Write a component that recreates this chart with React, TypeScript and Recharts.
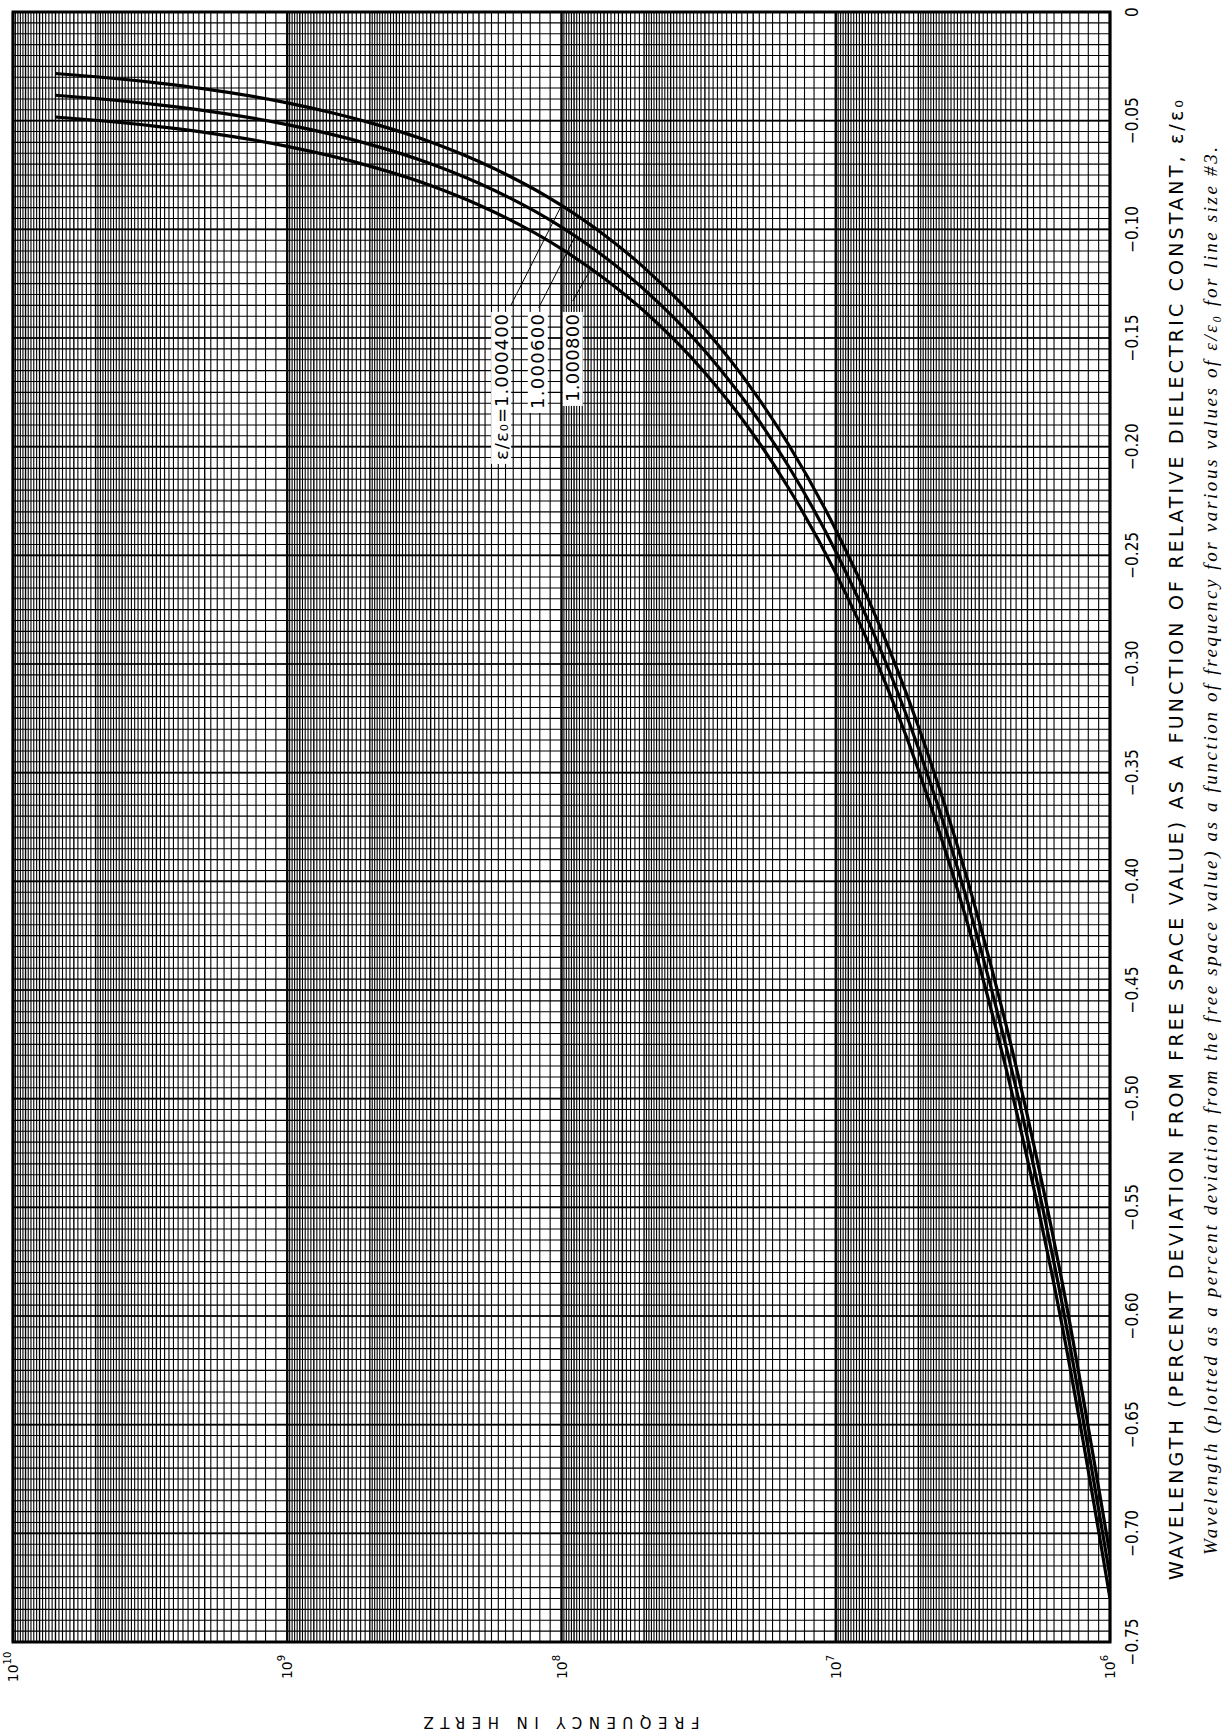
import { CartesianGrid, Label, Line, LineChart, ReferenceArea, ReferenceDot, ReferenceLine, XAxis, YAxis } from 'recharts'

// frequency in Hz, read along the bottom (log) axis
const FREQUENCIES = [7e9, 5e9, 3e9, 2e9, 1e9, 7e8, 5e8, 3e8, 2e8, 1e8, 7e7, 5e7, 3e7, 2e7, 1.5e7, 1e7, 7e6, 5e6, 3e6, 2e6, 1.5e6, 1e6]

// percent deviation of wavelength, one list per value of e/e0
const DEVIATION_1000400 = [-0.0283, -0.0298, -0.0326, -0.0354, -0.0418, -0.0461, -0.0509, -0.0598, -0.0688, -0.089, -0.1025, -0.1176, -0.146, -0.1743, -0.1982, -0.2382, -0.2808, -0.3286, -0.4184, -0.5079, -0.5834, -0.71]
const DEVIATION_1000600 = [-0.0383, -0.0398, -0.0426, -0.0454, -0.0518, -0.0561, -0.0609, -0.0698, -0.0788, -0.099, -0.1125, -0.1276, -0.156, -0.1843, -0.2082, -0.2482, -0.2908, -0.3386, -0.4284, -0.5179, -0.5934, -0.72]
const DEVIATION_1000800 = [-0.0483, -0.0498, -0.0526, -0.0554, -0.0618, -0.0661, -0.0709, -0.0798, -0.0888, -0.109, -0.1225, -0.1376, -0.166, -0.1943, -0.2182, -0.2582, -0.3008, -0.3486, -0.4384, -0.5279, -0.6034, -0.73]

const SERIES = [
    { name: '1.000400', values: DEVIATION_1000400 },
    { name: '1.000600', values: DEVIATION_1000600 },
    { name: '1.000800', values: DEVIATION_1000800 },
]

const FREQ_TICKS = [1e10, 1e9, 1e8, 1e7, 1e6]
const FREQ_EXPONENTS = ['10', '9', '8', '7', '6']

const DEVIATION_TICKS = [0, -0.05, -0.1, -0.15, -0.2, -0.25, -0.3, -0.35, -0.4, -0.45, -0.5, -0.55, -0.6, -0.65, -0.7, -0.75]
const DEVIATION_LABELS = ['0', '−0.05', '−0.10', '−0.15', '−0.20', '−0.25', '−0.30', '−0.35', '−0.40', '−0.45', '−0.50', '−0.55', '−0.60', '−0.65', '−0.70', '−0.75']

// curve call-outs: label top (freq) and leader from label to its curve
const CURVE_LABELS = [
    { text: 'ε/ε₀=1.000400', f: 1.66e8, len: 146 },
    { text: '1.000600', f: 1.22e8, len: 95 },
    { text: '1.000800', f: 9.1e7, len: 88 },
]
const LABEL_TOP = -0.138
const LEADERS = [
    { from: { x: 1.53e8, y: -0.135 }, to: { x: 1.0e8, y: -0.089 } },
    { from: { x: 1.21e8, y: -0.136 }, to: { x: 8.9e7, y: -0.103 } },
    { from: { x: 9.1e7, y: -0.133 }, to: { x: 7.8e7, y: -0.118 } },
]

// paper rulings (semi-log, 4 cycles)
const DECADES = [1e6, 1e7, 1e8, 1e9]
const FINE_MANTISSAS: number[] = []
for (let m = 11; m < 50; m++) if (m % 10 !== 0) FINE_MANTISSAS.push(m / 10)
for (let m = 52; m < 100; m += 2) if (m % 10 !== 0) FINE_MANTISSAS.push(m / 10)
const MAIN_MANTISSAS = [2, 3, 4, 5, 6, 7, 8, 9]
const X_FINE = DECADES.flatMap((d) => FINE_MANTISSAS.map((m) => m * d))
const X_MAIN = DECADES.flatMap((d) => MAIN_MANTISSAS.map((m) => m * d))
const Y_FINE = Array.from({ length: 151 }, (_, i) => -(i * 5) / 1000)

const FREQ_DOMAIN = [1e6, 1e10]
const DEV_DOMAIN = [-0.75, 0]

const NARROW = "'Liberation Sans Narrow', 'DejaVu Sans Condensed', 'Roboto Condensed', sans-serif"
const SANS = "'DejaVu Sans', 'Liberation Sans', sans-serif"
const SERIF = "'Liberation Serif', 'DejaVu Serif', serif"

function FreqTick({ x, y, payload }: any) {
    const i = FREQ_TICKS.indexOf(payload.value)
    const cy = y + 25
    return (
        <text x={x} y={cy} transform={`rotate(-90 ${x} ${cy})`} textAnchor="middle" dominantBaseline="central"
            fontFamily={SANS} fontSize={14} fill="#000">
            10<tspan dy={-6} fontSize={10}>{FREQ_EXPONENTS[i]}</tspan>
        </text>
    )
}

function DevTick({ x, y, payload }: any) {
    const i = DEVIATION_TICKS.indexOf(payload.value)
    const cx = x + 22
    return (
        <text x={cx} y={y} transform={`rotate(-90 ${cx} ${y})`} textAnchor="middle" dominantBaseline="central"
            fontFamily={NARROW} fontStretch="condensed" fontSize={17} fill="#000">
            {DEVIATION_LABELS[i]}
        </text>
    )
}

function CurveLabel({ cx, cy, text, len }: any) {
    return (
        <g transform={`rotate(-90 ${cx} ${cy})`}>
            <rect x={cx - len - 6} y={cy - 10} width={len + 6} height={20} fill="#fff" />
            <text x={cx - 2} y={cy} textAnchor="end" dominantBaseline="central" fontFamily={SANS} fontSize={18}
                textLength={len} lengthAdjust="spacing" fill="#000">
                {text}
            </text>
        </g>
    )
}

function FreqTitle({ viewBox }: any) {
    const cx = viewBox.x + viewBox.width / 2
    const cy = viewBox.y + 80
    return (
        <text x={cx} y={cy} transform={`rotate(180 ${cx} ${cy})`} textAnchor="middle" dominantBaseline="central"
            fontFamily={SANS} fontSize={15} textLength={276} lengthAdjust="spacing" fill="#000">
            FREQUENCY IN HERTZ
        </text>
    )
}

function DevTitle({ viewBox }: any) {
    const tx = viewBox.x + 66
    const ty = viewBox.y + 828
    const cx = viewBox.x + 100
    const cy = viewBox.y + 839
    return (
        <g>
            <text x={tx} y={ty} transform={`rotate(-90 ${tx} ${ty})`} textAnchor="middle" dominantBaseline="central"
                fontFamily={SANS} fontSize={19} textLength={1480} lengthAdjust="spacing" fill="#000">
                WAVELENGTH (PERCENT DEVIATION FROM FREE SPACE VALUE) AS A FUNCTION OF RELATIVE DIELECTRIC CONSTANT, ε/ε₀
            </text>
            <text x={cx} y={cy} transform={`rotate(-90 ${cx} ${cy})`} textAnchor="middle" dominantBaseline="central"
                fontFamily={SERIF} fontStyle="italic" fontSize={19} textLength={1408} lengthAdjust="spacing" fill="#000">
                Wavelength (plotted as a percent deviation from the free space value) as a function of frequency for various values of ε/ε₀ for line size #3.
            </text>
        </g>
    )
}

export default function App() {
    const seriesData = SERIES.map((s) => ({
        name: s.name,
        data: FREQUENCIES.map((f, i) => ({ f, d: s.values[i] })),
    }))

    return (
        <div style={{ width: 1225, height: 1733, background: '#fff' }}>
            <style>{'body { margin: 0; background: #fff; }'}</style>
            <LineChart width={1225} height={1733} margin={{ top: 12, right: 0, bottom: 0, left: 13 }}>
                <XAxis xAxisId="f" dataKey="f" type="number" scale="log" domain={FREQ_DOMAIN} reversed allowDataOverflow
                    ticks={FREQ_TICKS} interval={0} height={91} tickSize={0} tickMargin={0} axisLine={false} tickLine={false}
                    tick={<FreqTick />}>
                    <Label content={<FreqTitle />} />
                </XAxis>
                <YAxis yAxisId="d" orientation="right" type="number" domain={DEV_DOMAIN} allowDataOverflow
                    ticks={DEVIATION_TICKS} interval={0} width={115} tickSize={0} tickMargin={0} axisLine={false} tickLine={false}
                    tick={<DevTick />}>
                    <Label content={<DevTitle />} />
                </YAxis>
                <YAxis yAxisId="yfine" hide type="number" domain={DEV_DOMAIN} allowDataOverflow ticks={Y_FINE} interval={0} />

                <CartesianGrid xAxisId="f" yAxisId="yfine" vertical={false} stroke="#000" strokeWidth={1.1} />
                <CartesianGrid xAxisId="f" yAxisId="d" vertical={false} stroke="#000" strokeWidth={1.7} />
                <CartesianGrid xAxisId="f" yAxisId="d" horizontal={false} stroke="#000" strokeWidth={2.4} />

                {X_FINE.map((v) => (
                    <ReferenceLine key={`xf-${v}`} xAxisId="f" yAxisId="d" x={v} stroke="#000" strokeWidth={1.1} />
                ))}
                {X_MAIN.map((v) => (
                    <ReferenceLine key={`xm-${v}`} xAxisId="f" yAxisId="d" x={v} stroke="#000" strokeWidth={1.4} />
                ))}

                <ReferenceArea xAxisId="f" yAxisId="d" x1={1e10} x2={1e6} y1={-0.75} y2={0} fill="none" stroke="#000"
                    strokeWidth={3} ifOverflow="visible" />

                {LEADERS.map((l, i) => (
                    <ReferenceLine key={`leader-${i}`} xAxisId="f" yAxisId="d" segment={[l.from, l.to]} stroke="#000"
                        strokeWidth={1} ifOverflow="visible" />
                ))}
                {CURVE_LABELS.map((c, i) => (
                    <ReferenceDot key={`label-${i}`} xAxisId="f" yAxisId="d" x={c.f} y={LABEL_TOP} r={0}
                        shape={(p: any) => <CurveLabel cx={p.cx} cy={p.cy} text={c.text} len={c.len} />} />
                ))}

                {seriesData.map((s) => (
                    <Line key={s.name} xAxisId="f" yAxisId="d" data={s.data} dataKey="d" name={s.name} type="monotone"
                        stroke="#000" strokeWidth={3.2} dot={false} activeDot={false} isAnimationActive={false} />
                ))}
            </LineChart>
        </div>
    )
}
